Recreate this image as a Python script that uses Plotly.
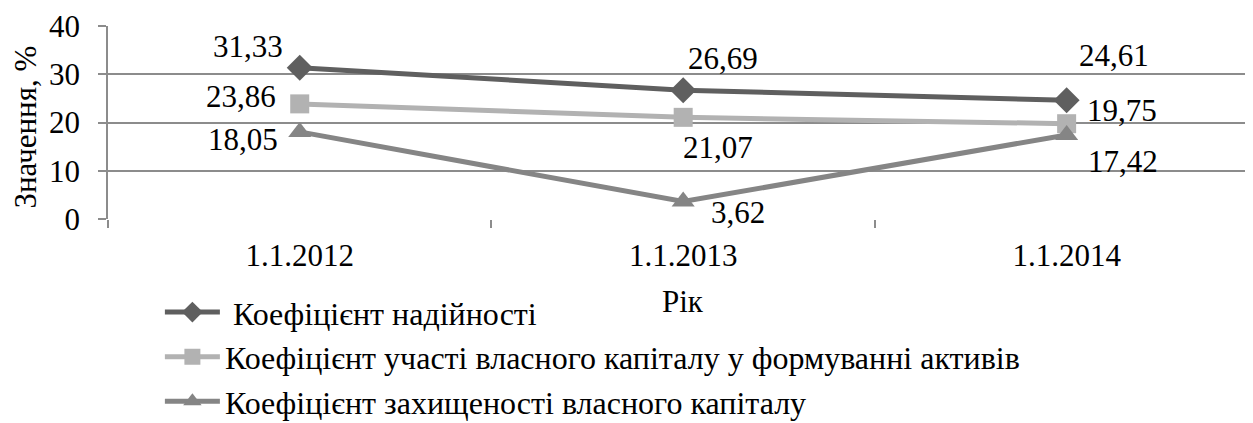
import plotly.graph_objects as go

categories = ["1.1.2012", "1.1.2013", "1.1.2014"]
series_names = [" Коефіцієнт надійності",
                "Коефіцієнт участі власного капіталу у формуванні активів",
                "Коефіцієнт захищеності власного капіталу"]
reliability = [31.33, 26.69, 24.61]
equity_share = [23.86, 21.07, 19.75]
equity_protection = [18.05, 3.62, 17.42]
y_ticks = [0, 10, 20, 30, 40]

series_values = [reliability, equity_share, equity_protection]
colors = ["#5f5f5f", "#b2b2b2", "#858585"]
symbols = ["diamond", "square", "triangle-up"]
marker_sizes = [20, 19, 20]
# label offsets (px) per series per point
label_offsets = [
    [(-52, 21), (40, 32), (47, 45)],
    [(-59, 7), (35, -30), (55, 13)],
    [(-57, -8), (55, -11), (56, -27)],
]

FONT = "Liberation Serif, Times New Roman, Times, serif"
FS = 31

fig = go.Figure()
annotations = []
for name, vals, col, sym, ms, offs in zip(series_names, series_values, colors,
                                          symbols, marker_sizes, label_offsets):
    fig.add_trace(go.Scatter(
        x=categories, y=vals, name=name, mode="lines+markers",
        line=dict(color=col, width=5),
        marker=dict(symbol=sym, size=ms, color=col),
    ))
    for c, v, (dx, dy) in zip(categories, vals, offs):
        annotations.append(dict(
            x=c, y=v, xref="x", yref="y", text=f"{v:.2f}".replace(".", ","),
            showarrow=False, xshift=dx, yshift=dy,
            font=dict(family=FONT, size=FS, color="black"),
        ))

# axis titles
annotations.append(dict(text="Рік", xref="paper", yref="paper", x=0.502, y=-0.43,
                        xanchor="center", yanchor="middle", showarrow=False,
                        font=dict(family=FONT, size=FS, color="black")))
annotations.append(dict(text="Значення, %", xref="paper", yref="paper", x=-0.072, y=0.477,
                        xanchor="center", yanchor="middle", showarrow=False, textangle=-90,
                        font=dict(family=FONT, size=FS, color="black")))

fig.update_layout(
    width=1245, height=415,
    margin=dict(l=100, r=0, t=18, b=204, autoexpand=False),
    paper_bgcolor="white", plot_bgcolor="white",
    font=dict(family=FONT, size=FS, color="black"),
    annotations=annotations,
    showlegend=True,
    legend=dict(
        xref="container", yref="container", x=0.122, y=0.333,
        xanchor="left", yanchor="top",
        font=dict(family=FONT, size=32, color="black"),
        itemwidth=55, tracegroupgap=0, bgcolor="rgba(0,0,0,0)",
    ),
    xaxis=dict(
        type="category", range=[-0.5, 2.486],
        showgrid=False, showline=False, zeroline=False,
        ticks="outside", ticklen=8, tickcolor="#8c8c8c", tickwidth=1.5,
        tickson="boundaries", ticklabelstandoff=15, tickangle=0,
        tickfont=dict(family=FONT, size=FS),
    ),
    yaxis=dict(
        range=[0, 40], tickvals=y_ticks,
        showgrid=True, gridcolor="#8c8c8c", gridwidth=1.5,
        showline=True, linecolor="#8c8c8c", linewidth=1.5,
        zeroline=False,
        ticks="outside", ticklen=8, tickcolor="#8c8c8c", tickwidth=1.5,
        ticklabelstandoff=12,
        tickfont=dict(family=FONT, size=FS),
    ),
)

fig.write_html("out.html")
